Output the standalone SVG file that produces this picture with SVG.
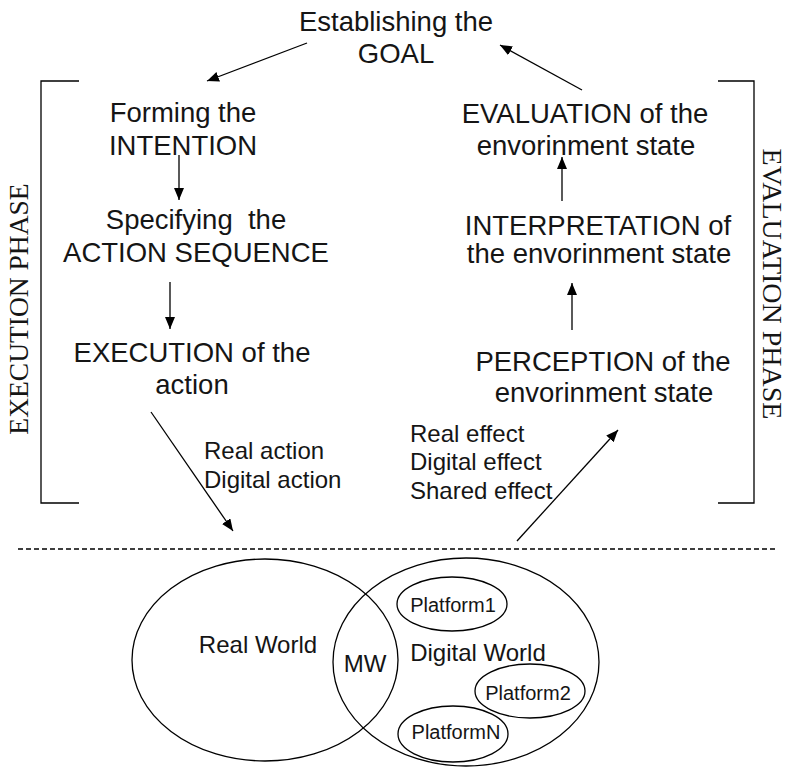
<svg xmlns="http://www.w3.org/2000/svg" width="788" height="767" viewBox="0 0 788 767">
<style>
  .t { font-family: "Liberation Sans", Arial, sans-serif; font-size: 27.5px; fill: #151515; text-anchor: middle; }
  .s { font-family: "Liberation Sans", Arial, sans-serif; font-size: 24px; fill: #151515; }
  .p { font-family: "Liberation Sans", Arial, sans-serif; font-size: 20px; fill: #151515; text-anchor: middle; }
  .v { font-family: "Liberation Serif", "Times New Roman", serif; fill: #151515; text-anchor: middle; }
  .ln { stroke: #000; stroke-width: 1.3; fill: none; }
  .ar { stroke: #000; stroke-width: 1.3; fill: none; marker-end: url(#ah); }
  .el { stroke: #000; stroke-width: 1.3; fill: none; }
</style>
<defs>
  <marker id="ah" viewBox="0 0 12 10" refX="12" refY="5" markerWidth="12" markerHeight="10" markerUnits="userSpaceOnUse" orient="auto">
    <path d="M0,0 L12,5 L0,10 z" fill="#000"/>
  </marker>
</defs>
<rect width="788" height="767" fill="#fff"/>

<g id="brackets">
  <path class="ln" d="M79,81 H41 V503 H79"/>
  <path class="ln" d="M718,81 H754 V503 H718"/>
</g>
<g id="phase-labels">
  <text class="v" font-size="27.5" transform="translate(28,309) rotate(-90)">EXECUTION PHASE</text>
  <text class="v" font-size="28" transform="translate(763,284) rotate(90)">EVALUATION PHASE</text>
</g>

<g id="goal">
  <text class="t" x="396" y="31">Establishing the</text>
  <text class="t" x="396" y="63">GOAL</text>
</g>
<g id="intention">
  <text class="t" x="183" y="122">Forming the</text>
  <text class="t" x="183" y="155">INTENTION</text>
</g>
<g id="action-sequence">
  <text class="t" x="196" y="229" xml:space="preserve">Specifying  the</text>
  <text class="t" x="196" y="262">ACTION SEQUENCE</text>
</g>
<g id="execution">
  <text class="t" x="192" y="362">EXECUTION of the</text>
  <text class="t" x="192" y="394">action</text>
</g>
<g id="evaluation">
  <text class="t" x="585" y="123">EVALUATION of the</text>
  <text class="t" x="586" y="155">envorinment state</text>
</g>
<g id="interpretation">
  <text class="t" x="598" y="235">INTERPRETATION of</text>
  <text class="t" x="599" y="263">the envorinment state</text>
</g>
<g id="perception">
  <text class="t" x="603" y="371">PERCEPTION of the</text>
  <text class="t" x="604" y="402">envorinment state</text>
</g>
<g id="action-labels">
  <text class="s" x="204" y="459">Real action</text>
  <text class="s" x="204" y="488">Digital action</text>
</g>
<g id="effect-labels">
  <text class="s" x="410" y="442">Real effect</text>
  <text class="s" x="410" y="470">Digital effect</text>
  <text class="s" x="410" y="499">Shared effect</text>
</g>

<g id="connectors">
  <line class="ar" x1="307" y1="43" x2="207" y2="81"/>
  <line class="ar" x1="179" y1="155" x2="179" y2="200"/>
  <line class="ar" x1="170" y1="282" x2="170" y2="329"/>
  <line class="ar" x1="151" y1="412" x2="233" y2="531"/>
  <line class="ar" x1="517" y1="541" x2="618" y2="430"/>
  <line class="ar" x1="572" y1="330" x2="572" y2="283"/>
  <line class="ar" x1="562" y1="201" x2="562" y2="157"/>
  <line class="ar" x1="582" y1="90" x2="500" y2="45"/>
</g>

<g id="divider">
  <line x1="18" y1="549" x2="775" y2="549" stroke="#000" stroke-width="1.3" stroke-dasharray="5 3"/>
</g>

<g id="real-world">
  <ellipse class="el" cx="265" cy="660" rx="133" ry="101"/>
  <text class="s" x="258" y="653" text-anchor="middle">Real World</text>
</g>
<g id="digital-world">
  <ellipse class="el" cx="466" cy="662" rx="133" ry="104"/>
  <text class="s" x="478" y="661" text-anchor="middle">Digital World</text>
</g>
<g id="mw">
  <text class="s" x="365" y="672" text-anchor="middle" font-size="28">MW</text>
</g>
<g id="platform1">
  <ellipse class="el" cx="452" cy="604" rx="55" ry="27"/>
  <text class="p" x="453" y="612">Platform1</text>
</g>
<g id="platform2">
  <ellipse class="el" cx="530" cy="691" rx="55" ry="27"/>
  <text class="p" x="528" y="700">Platform2</text>
</g>
<g id="platformN">
  <ellipse class="el" cx="453" cy="734" rx="55" ry="28"/>
  <text class="p" x="456" y="739">PlatformN</text>
</g>
</svg>
